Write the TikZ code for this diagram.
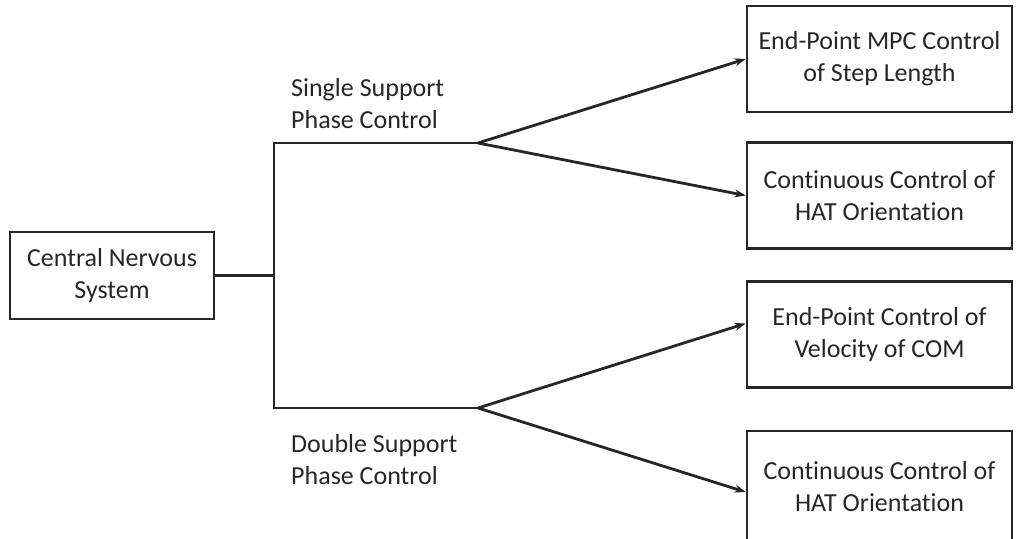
\documentclass[tikz,border=0pt]{standalone}
\usepackage{fontspec}
\setmainfont{Carlito}[Ligatures=NoCommon]
\usetikzlibrary{arrows.meta,calc}
\tikzset{
  box/.style={draw=black!85, line width=2.8pt, minimum width=265pt, minimum height=106pt, align=center, inner sep=0pt, font=\fontsize{26}{32}\selectfont, text=black!85},
  lbl/.style={align=left, inner sep=0pt, font=\fontsize{26}{32}\selectfont, text=black!85, anchor=west},
  conn/.style={draw=black!85, line width=2.8pt},
  arr/.style={conn, -{Stealth[length=11pt,width=8pt]}},
}
\begin{document}
\begin{tikzpicture}[x=1pt,y=-1pt]
\clip (0,0) rectangle (1016,538);
\useasboundingbox (0,0) rectangle (1016,538);
\node[box, minimum width=204pt, minimum height=87pt] (cns) at (112,275.5) {Central Nervous\\System};
\node[box] (b1) at (879.5,59) {End-Point MPC Control\\of Step Length};
\node[box] (b2) at (879.5,195.5) {Continuous Control of\\HAT Orientation};
\node[box] (b3) at (879.5,334.5) {End-Point Control of\\Velocity of COM};
\node[box, minimum height=112pt] (b4) at (879.5,487) {Continuous Control of\\HAT Orientation};
\node[lbl] (l1) at (291,104) {Single Support\\Phase Control};
\node[lbl] (l2) at (291,460) {Double Support\\Phase Control};
\coordinate (t1) at (274,143);
\coordinate (t2) at (274,408);
\coordinate (s1) at (478,143);
\coordinate (s2) at (478,408);
\draw[conn] (cns.east) -- (cns.east -| t1);
\draw[conn, line join=miter] (s1) -- (t1) -- (t2) -- (s2);
\draw[arr] (s1) -- (b1.west);
\draw[arr] (s1) -- (b2.west);
\draw[arr] (s2) -- ([yshift=11pt]b3.west);
\draw[arr] (s2) -- ([yshift=-5pt]b4.west);
\end{tikzpicture}
\end{document}
